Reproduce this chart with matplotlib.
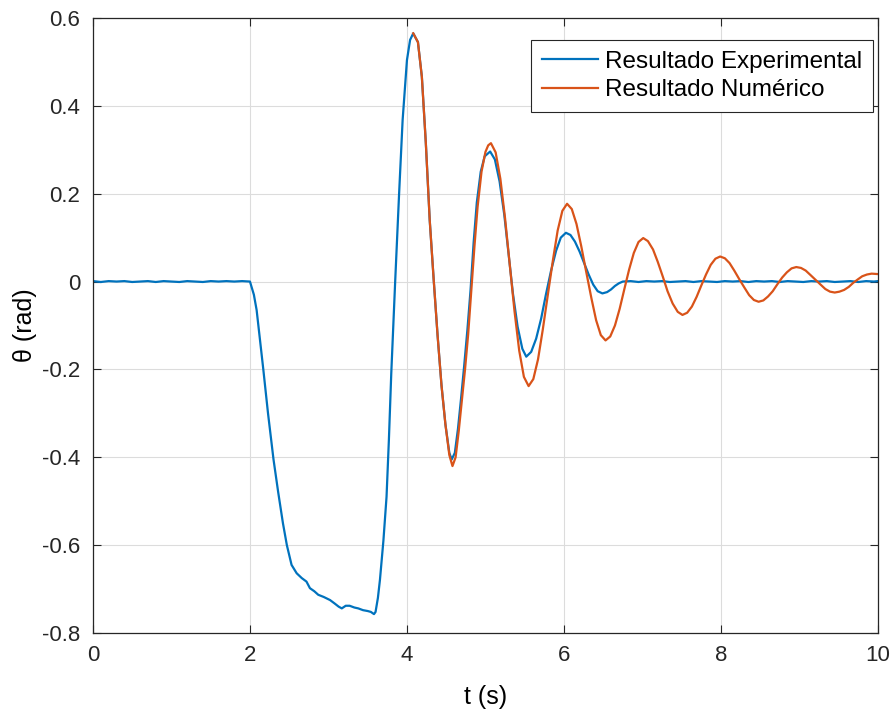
#!/usr/bin/env python3

import matplotlib
matplotlib.use("Agg")
import matplotlib.pyplot as plt

# ---------------------------- Data ---------------------------- #

# Experimental response: flat start, pull to -0.75, release, damped oscillation
t_exp = [
    0.0, 0.1, 0.2, 0.3, 0.4, 0.5, 0.6, 0.7, 0.8, 0.9, 1.0,
    1.1, 1.2, 1.3, 1.4, 1.5, 1.6, 1.7, 1.8, 1.9, 2.0,
    2.05, 2.085, 2.17, 2.23, 2.30, 2.36, 2.42, 2.47, 2.53, 2.595,
    2.66, 2.72, 2.764, 2.82, 2.87, 2.94, 3.02, 3.08, 3.13, 3.17,
    3.22, 3.27, 3.33, 3.38, 3.44, 3.50, 3.54, 3.58, 3.60, 3.63,
    3.656, 3.70, 3.74, 3.77, 3.80, 3.85, 3.90, 3.945, 4.00, 4.04,
    4.08, 4.14, 4.19, 4.24, 4.29, 4.34, 4.39, 4.44, 4.49, 4.54,
    4.57, 4.61, 4.65, 4.69, 4.73, 4.77, 4.81, 4.85, 4.89, 4.94,
    4.99, 5.06, 5.12, 5.18, 5.24, 5.295, 5.35, 5.41, 5.47, 5.52,
    5.583, 5.646, 5.71, 5.77, 5.835, 5.90, 5.96, 6.025, 6.083, 6.14,
    6.20, 6.257, 6.315, 6.373, 6.43, 6.49, 6.55, 6.60, 6.65, 6.70,
    6.75, 6.85, 6.95, 7.05, 7.15, 7.25, 7.35, 7.45, 7.55, 7.65,
    7.75, 7.85, 7.95, 8.05, 8.15, 8.25, 8.35, 8.45, 8.55, 8.65,
    8.75, 8.85, 8.95, 9.05, 9.15, 9.25, 9.35, 9.45, 9.55, 9.65,
    9.75, 9.85, 9.95, 10.0,
]
theta_exp = [
    0.001, -0.001, 0.001, 0.000, 0.001, -0.001, 0.000, 0.001, -0.001, 0.001, 0.000,
    -0.001, 0.001, 0.000, -0.001, 0.001, 0.000, 0.001, 0.000, 0.001, 0.000,
    -0.030, -0.065, -0.200, -0.300, -0.405, -0.480, -0.550, -0.600, -0.645, -0.664,
    -0.675, -0.683, -0.698, -0.705, -0.713, -0.718, -0.725, -0.733, -0.740, -0.744,
    -0.738, -0.738, -0.742, -0.744, -0.748, -0.750, -0.752, -0.757, -0.752, -0.720,
    -0.679, -0.590, -0.490, -0.360, -0.210, 0.000, 0.200, 0.368, 0.504, 0.550,
    0.565, 0.545, 0.466, 0.317, 0.140, 0.006, -0.122, -0.236, -0.325, -0.390,
    -0.405, -0.390, -0.335, -0.265, -0.190, -0.110, -0.020, 0.090, 0.180, 0.250,
    0.285, 0.296, 0.278, 0.228, 0.152, 0.062, -0.027, -0.103, -0.153, -0.171,
    -0.160, -0.130, -0.084, -0.030, 0.024, 0.070, 0.100, 0.111, 0.106, 0.091,
    0.068, 0.042, 0.016, -0.007, -0.022, -0.027, -0.024, -0.018, -0.010, -0.004,
    0.000, 0.001, -0.001, 0.001, 0.000, 0.001, -0.001, 0.000, 0.001, -0.001,
    0.001, 0.000, -0.001, 0.001, 0.000, 0.001, -0.001, 0.001, 0.000, 0.001,
    -0.001, 0.001, 0.000, -0.001, 0.001, 0.000, 0.001, -0.001, 0.000, 0.001,
    -0.001, 0.001, 0.000, 0.001,
]

# Numerical response: starts at the first peak after release
t_num = [
    4.08, 4.14, 4.19, 4.24, 4.29, 4.34, 4.39, 4.44, 4.49, 4.54,
    4.58, 4.62, 4.66, 4.70, 4.74, 4.78, 4.82, 4.86, 4.90, 4.95,
    5.00, 5.035, 5.07, 5.13, 5.19, 5.25, 5.31, 5.37, 5.43, 5.49,
    5.55, 5.61, 5.67, 5.73, 5.795, 5.86, 5.92, 5.98, 6.04, 6.10,
    6.16, 6.22, 6.285, 6.35, 6.41, 6.47, 6.53, 6.59, 6.65, 6.71,
    6.77, 6.83, 6.89, 6.95, 7.01, 7.07, 7.135, 7.195, 7.26, 7.32,
    7.385, 7.45, 7.51, 7.57, 7.63, 7.69, 7.75, 7.81, 7.87, 7.93,
    7.99, 8.05, 8.11, 8.17, 8.235, 8.30, 8.36, 8.42, 8.48, 8.54,
    8.60, 8.66, 8.72, 8.78, 8.84, 8.90, 8.96, 9.02, 9.08, 9.14,
    9.205, 9.27, 9.33, 9.39, 9.45, 9.51, 9.57, 9.63, 9.685, 9.745,
    9.80, 9.86, 9.92, 10.0,
]
theta_num = [
    0.565, 0.545, 0.466, 0.317, 0.140, 0.006, -0.122, -0.236, -0.325, -0.395,
    -0.420, -0.400, -0.340, -0.270, -0.200, -0.120, -0.020, 0.080, 0.170, 0.250,
    0.295, 0.310, 0.315, 0.294, 0.234, 0.144, 0.038, -0.067, -0.157, -0.217,
    -0.238, -0.222, -0.177, -0.110, -0.030, 0.049, 0.116, 0.161, 0.177, 0.165,
    0.131, 0.081, 0.021, -0.038, -0.088, -0.122, -0.134, -0.125, -0.100, -0.062,
    -0.017, 0.027, 0.065, 0.090, 0.099, 0.092, 0.073, 0.045, 0.011, -0.022,
    -0.050, -0.069, -0.076, -0.071, -0.057, -0.035, -0.009, 0.016, 0.038, 0.052,
    0.057, 0.053, 0.042, 0.025, 0.005, -0.014, -0.031, -0.042, -0.046, -0.043,
    -0.034, -0.022, -0.006, 0.009, 0.021, 0.030, 0.033, 0.031, 0.025, 0.015,
    0.004, -0.007, -0.017, -0.023, -0.025, -0.023, -0.019, -0.012, -0.003, 0.005,
    0.012, 0.016, 0.018, 0.017,
]

x_ticks = [0, 2, 4, 6, 8, 10]
y_ticks = [-0.8, -0.6, -0.4, -0.2, 0, 0.2, 0.4, 0.6]
y_tick_labels = ["-0.8", "-0.6", "-0.4", "-0.2", "0", "0.2", "0.4", "0.6"]

# ---------------------------- Plot ---------------------------- #

plt.rcParams['font.family'] = ['Liberation Sans', 'DejaVu Sans']

fig = plt.figure(figsize=(8.94, 7.27), dpi=100)
ax = fig.add_axes([0.104, 0.1293, 0.878, 0.846])

ax.plot(t_exp, theta_exp, color='#0072BD', linewidth=1.6, label='Resultado Experimental')
ax.plot(t_num, theta_num, color='#D95319', linewidth=1.6, label='Resultado Numérico')

ax.set_xlim(0, 10)
ax.set_ylim(-0.8, 0.6)
ax.set_xticks(x_ticks)
ax.set_yticks(y_ticks)
ax.set_yticklabels(y_tick_labels)

ax.grid(True, color='#dcdcdc', linewidth=0.8)
ax.set_axisbelow(True)
ax.tick_params(direction='in', length=6, width=0.8, colors='#262626',
               labelsize=16, top=True, right=True, pad=9)
for s in ax.spines.values():
    s.set_color('#262626')
    s.set_linewidth(0.9)

ax.set_xlabel('t (s)', fontsize=18, labelpad=13)
ax.set_ylabel('θ (rad)', fontsize=18, labelpad=4)

# legend box: right edge ~873 px, top ~40 px in the reference
leg = ax.legend(loc='upper right', bbox_to_anchor=(873 / 894, 1 - 40 / 727),
                bbox_transform=fig.transFigure, fontsize=17.5,
                frameon=True, fancybox=False, handlelength=2.3, borderpad=0.45,
                labelspacing=0.25, handletextpad=0.3, borderaxespad=0.0)
leg.get_frame().set_edgecolor('#262626')
leg.get_frame().set_linewidth(0.8)
leg.get_frame().set_alpha(1.0)

fig.savefig('out.png', dpi=100)
